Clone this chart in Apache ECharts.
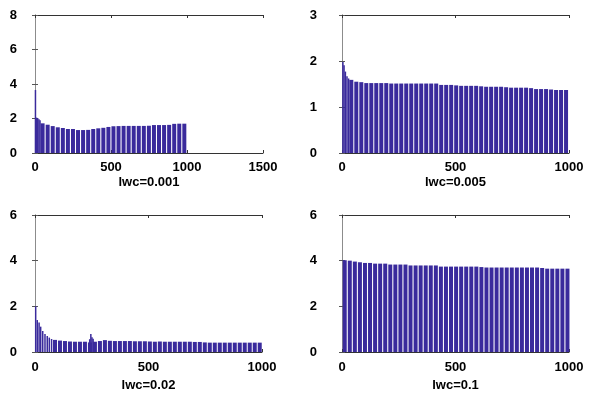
<!DOCTYPE html>
<html>
<head>
<meta charset="utf-8">
<script src="https://cdn.jsdelivr.net/npm/echarts@6/dist/echarts.min.js"></script>
<style>
    html, body {margin: 0; padding: 0; background: #fff;}
    #chart {width: 601px; height: 398px;}
</style>
</head>
<body>
<div id="chart"></div>
<script>
var panelNames = ['lwc=0.001', 'lwc=0.005', 'lwc=0.02', 'lwc=0.1'];
var xMax = [1500, 1000, 1000, 1000];
var yMax = [8, 3, 6, 6];
var yStep = [2, 1, 2, 2];

// main bars: centre of bar i = barStart + i * barStep
var barStart = [50, 41, 88, 12];
var barStep = [33.3, 22, 22, 22.3];

var vals001 = [1.72, 1.64, 1.56, 1.49, 1.45, 1.39, 1.39, 1.33, 1.33, 1.34,
    1.39, 1.43, 1.46, 1.51, 1.55, 1.56, 1.57, 1.57, 1.57, 1.57,
    1.57, 1.58, 1.62, 1.62, 1.62, 1.63, 1.69, 1.70, 1.70];
var vals005 = [1.59, 1.55, 1.54, 1.52, 1.52, 1.52, 1.52, 1.52, 1.51, 1.51,
    1.51, 1.51, 1.51, 1.51, 1.51, 1.51, 1.51, 1.51, 1.48, 1.48,
    1.48, 1.47, 1.46, 1.46, 1.46, 1.46, 1.45, 1.44, 1.44, 1.44,
    1.44, 1.43, 1.42, 1.42, 1.42, 1.42, 1.41, 1.39, 1.39, 1.39,
    1.38, 1.37, 1.37, 1.37];
var vals02 = [0.53, 0.50, 0.48, 0.46, 0.45, 0.45, 0.45, 0.42, 0.45, 0.48,
    0.52, 0.49, 0.48, 0.48, 0.48, 0.48, 0.47, 0.47, 0.47, 0.46,
    0.45, 0.46, 0.45, 0.45, 0.45, 0.45, 0.45, 0.45, 0.44, 0.44,
    0.42, 0.41, 0.41, 0.41, 0.41, 0.41, 0.41, 0.41, 0.41, 0.41,
    0.41, 0.41];
var vals1 = [4.02, 4.00, 3.96, 3.93, 3.90, 3.90, 3.87, 3.87, 3.87, 3.83,
    3.83, 3.83, 3.83, 3.79, 3.79, 3.79, 3.79, 3.79, 3.79, 3.74,
    3.74, 3.74, 3.74, 3.74, 3.74, 3.74, 3.74, 3.72, 3.70, 3.70,
    3.70, 3.70, 3.70, 3.70, 3.70, 3.70, 3.70, 3.70, 3.70, 3.68,
    3.65, 3.65, 3.65, 3.65, 3.65];

// thin bars: the steep start of each run, and the bump near 250 in lwc=0.02
var fineX001 = [3, 10, 18, 26, 33];
var fineY001 = [3.65, 2.05, 2.02, 1.96, 1.90];
var fineX005 = [4, 9, 15, 22, 29];
var fineY005 = [1.98, 1.91, 1.77, 1.67, 1.62];
var fineX02 = [3, 10, 18, 25, 34, 44, 54, 63, 73, 241, 246, 251, 256];
var fineY02 = [2.00, 1.40, 1.29, 1.11, 0.92, 0.79, 0.70, 0.63, 0.57, 0.56, 0.79, 0.65, 0.58];
var fineX1 = [];
var fineY1 = [];

var mainVals = [vals001, vals005, vals02, vals1];
var fineX = [fineX001, fineX005, fineX02, fineX1];
var fineY = [fineY001, fineY005, fineY02, fineY1];

var grids = [
    {left: 35, top: 15, width: 228, height: 138},
    {left: 342, top: 15, width: 227, height: 138},
    {left: 35, top: 215, width: 227, height: 137},
    {left: 342, top: 215, width: 227, height: 137}
];
var yLabelMargin = [18, 25, 18, 25];
var xLabelMargin = [8, 8, 9, 9];
var nameGap = [23, 23, 27, 27];

var barColor = '#3a2a9c';
var font = 'Arial, "Liberation Sans", sans-serif';

function plain(v) {
    return String(v);
}

var xAxes = [], yAxes = [], series = [];
for (var p = 0; p < 4; p++) {
    // bottom axis with labels, top axis only draws the box edge + ticks
    xAxes.push({
        gridIndex: p, type: 'value', position: 'bottom',
        min: 0, max: xMax[p], interval: 500,
        axisLine: {onZero: false, lineStyle: {color: '#333', width: 1}},
        axisTick: {inside: true, length: 3, lineStyle: {color: '#333'}},
        axisLabel: {margin: xLabelMargin[p], color: '#000', fontSize: 13, fontWeight: 'bold', fontFamily: font, formatter: plain},
        splitLine: {show: false},
        name: panelNames[p], nameLocation: 'middle', nameGap: nameGap[p],
        nameTextStyle: {color: '#000', fontSize: 13, fontWeight: 'bold', fontFamily: font}
    });
    xAxes.push({
        gridIndex: p, type: 'value', position: 'top',
        min: 0, max: xMax[p], interval: 500,
        axisLine: {onZero: false, lineStyle: {color: '#333', width: 1}},
        axisTick: {inside: true, length: 3, lineStyle: {color: '#333'}},
        axisLabel: {show: false},
        splitLine: {show: false}
    });
    yAxes.push({
        gridIndex: p, type: 'value', position: 'left',
        min: 0, max: yMax[p], interval: yStep[p],
        axisLine: {show: true, lineStyle: {color: '#8c8c8c', width: 1}},
        axisTick: {show: true, inside: true, length: 3, lineStyle: {color: '#555'}},
        axisLabel: {margin: yLabelMargin[p], color: '#000', fontSize: 13, fontWeight: 'bold', fontFamily: font, formatter: plain},
        splitLine: {show: false}
    });
    yAxes.push({
        gridIndex: p, type: 'value', position: 'right',
        min: 0, max: yMax[p], interval: yStep[p],
        axisLine: {show: true, lineStyle: {color: '#8c8c8c', width: 1}},
        axisTick: {show: true, inside: true, length: 3, lineStyle: {color: '#555'}},
        axisLabel: {show: false},
        splitLine: {show: false}
    });

    var main = [];
    for (var i = 0; i < mainVals[p].length; i++) {
        main.push([barStart[p] + i * barStep[p], mainVals[p][i]]);
    }
    var fine = [];
    for (var j = 0; j < fineX[p].length; j++) {
        fine.push([fineX[p][j], fineY[p][j]]);
    }
    series.push({
        type: 'bar', xAxisIndex: 2 * p, yAxisIndex: 2 * p,
        data: main, barWidth: 4, clip: true,
        itemStyle: {color: barColor}, silent: true, animation: false
    });
    // thin bars sit on the top axis so their layout is independent
    series.push({
        type: 'bar', xAxisIndex: 2 * p + 1, yAxisIndex: 2 * p,
        data: fine, barWidth: 1.5, clip: true,
        itemStyle: {color: barColor}, silent: true, animation: false
    });
}

var myChart = echarts.init(document.getElementById('chart'));
myChart.setOption({
    animation: false,
    grid: grids,
    xAxis: xAxes,
    yAxis: yAxes,
    series: series
});
</script>
</body>
</html>
